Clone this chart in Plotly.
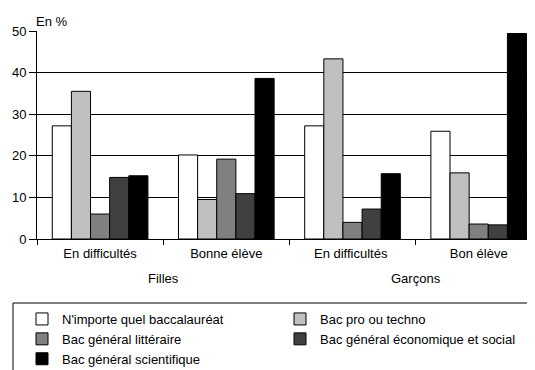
import plotly.graph_objects as go

categories = ["En difficultés", "Bonne élève", "En difficultés ", "Bon élève"]
groups = ["Filles", "Garçons"]
series_names = [
    "N'importe quel baccalauréat",
    "Bac pro ou techno",
    "Bac général littéraire",
    "Bac général économique et social",
    "Bac général scientifique",
]
vals_any = [27.2, 20.2, 27.2, 25.9]
vals_pro = [35.5, 9.5, 43.3, 15.9]
vals_lit = [6.0, 19.2, 4.0, 3.6]
vals_es = [14.8, 10.9, 7.2, 3.4]
vals_sci = [15.2, 38.6, 15.7, 49.4]
colors = ["#ffffff", "#c0c0c0", "#808080", "#404040", "#000000"]
yticks = [0, 10, 20, 30, 40, 50]

series_vals = [vals_any, vals_pro, vals_lit, vals_es, vals_sci]
FONT = "Liberation Sans, Arial, sans-serif"
FS = 13

fig = go.Figure()
for name, vals, col in zip(series_names, series_vals, colors):
    fig.add_trace(go.Bar(
        x=categories, y=vals, name=name,
        marker=dict(color=col, line=dict(color="#000000", width=1)),
    ))

# page body has an 8px default margin: work in window pixels, shift by OFF
OFF = 8
WIN_W, WIN_H = 535, 370
W, H = WIN_W - OFF, WIN_H - OFF
left_px, top_px, zero_px, right_px = 37, 31, 239, 535
ml = left_px - OFF
mt = top_px - OFF
mb = WIN_H - zero_px
mr = WIN_W - right_px
pw = W - ml - mr
ph = H - mt - mb

def px_x(px):
    return (px - OFF - ml) / pw

def px_y(py):
    return (H - mb - (py - OFF)) / ph

fig.update_layout(
    width=W, height=H,
    margin=dict(l=ml, r=mr, t=mt, b=mb, pad=0, autoexpand=False),
    paper_bgcolor="white", plot_bgcolor="white",
    font=dict(family=FONT, size=FS, color="#000000"),
    barmode="group", bargap=0.242, bargroupgap=0,
    showlegend=True,
    legend=dict(
        orientation="h", x=px_x(22), y=px_y(304), xanchor="left", yanchor="top",
        entrywidth=213, entrywidthmode="pixels",
        font=dict(family=FONT, size=FS, color="#000000"),
        bgcolor="rgba(0,0,0,0)", borderwidth=0, traceorder="normal",
    ),
    xaxis=dict(
        type="category", range=[-0.5, 3.446], tickson="boundaries",
        ticks="outside", ticklen=5, tickcolor="#000000",
        showline=True, linecolor="#000000", linewidth=1,
        showgrid=False, tickfont=dict(family=FONT, size=FS),
        ticklabelstandoff=2,
    ),
    yaxis=dict(
        range=[0, 50], tickvals=yticks, ticks="outside", ticklen=7,
        tickcolor="#000000", showline=True, linecolor="#000000", linewidth=1,
        showgrid=True, gridcolor="#000000", gridwidth=1, zeroline=False,
        tickfont=dict(family=FONT, size=FS),
    ),
)

fig.add_annotation(text="En %", xref="paper", yref="paper", x=px_x(34), y=px_y(22),
                   xanchor="left", yanchor="middle", showarrow=False,
                   font=dict(family=FONT, size=FS))
for g, cx in zip(groups, [0.5, 2.5]):
    fig.add_annotation(text=g, xref="x", yref="paper", x=cx, y=px_y(278),
                       xanchor="center", yanchor="middle", showarrow=False,
                       font=dict(family=FONT, size=FS))

fig.add_shape(type="rect", xref="paper", yref="paper",
              x0=px_x(13), x1=px_x(545), y0=px_y(303), y1=px_y(380),
              line=dict(color="#000000", width=1), fillcolor="rgba(0,0,0,0)")

fig.write_html("out.html")
